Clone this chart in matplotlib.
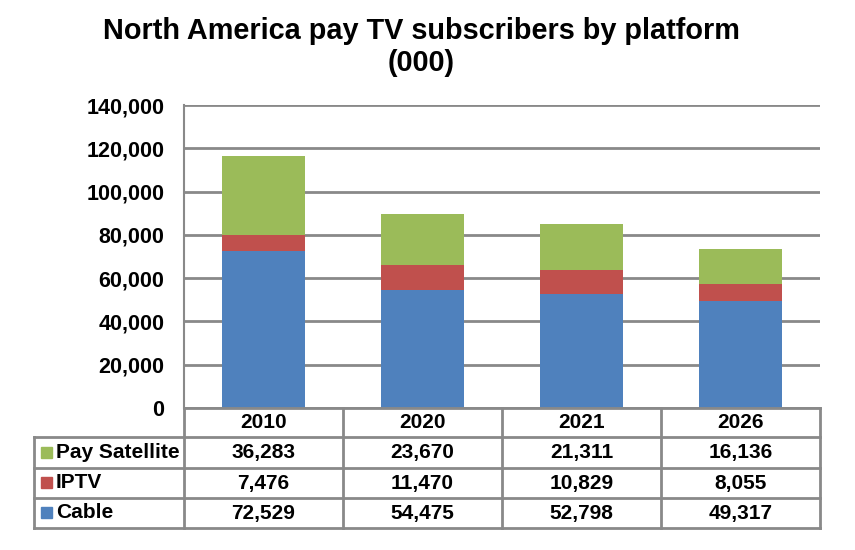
import matplotlib
matplotlib.use("Agg")
import matplotlib.pyplot as plt
import matplotlib.transforms as mtransforms
from matplotlib.patches import Rectangle

plt.rcParams['font.family'] = ['Liberation Sans', 'DejaVu Sans']
plt.rcParams['font.weight'] = 'bold'

# data
years = ["2010", "2020", "2021", "2026"]
series_names = ["Pay Satellite", "IPTV", "Cable"]
cable = [72529, 54475, 52798, 49317]
iptv = [7476, 11470, 10829, 8055]
satellite = [36283, 23670, 21311, 16136]
colors = {"Cable": "#4F81BD", "IPTV": "#C0504D", "Pay Satellite": "#9BBB59"}
values = {"Cable": cable, "IPTV": iptv, "Pay Satellite": satellite}

grid_col = "#898989"
fs = 15.5
fs_tab = 15

fig = plt.figure(figsize=(8.55, 5.5), dpi=100)
ax = fig.add_axes([184 / 855, 1 - 408 / 550, 636 / 855, 303 / 550])

x = [i + 0.5 for i in range(len(years))]
bottom = [0] * len(years)
for name in ["Cable", "IPTV", "Pay Satellite"]:
    ax.bar(x, values[name], width=0.52, bottom=bottom, color=colors[name], zorder=3)
    bottom = [b + v for b, v in zip(bottom, values[name])]

ax.set_xlim(0, len(years))
ax.set_ylim(0, 140000)
ax.set_yticks(range(0, 140001, 20000))
ax.set_yticklabels([f"{v:,}" for v in range(0, 140001, 20000)], fontsize=fs, fontweight='bold')
ax.tick_params(axis='y', length=0, pad=14)
ax.set_xticks([])
ax.grid(axis='y', color=grid_col, linewidth=2, zorder=0)
for s in ['top', 'right', 'bottom']:
    ax.spines[s].set_visible(False)
ax.spines['left'].set_color(grid_col)
ax.spines['left'].set_linewidth(1.5)

# data table below the axes
tr = mtransforms.blended_transform_factory(ax.transData, ax.transAxes)
px = 1 / 303.0
row_edges = [0, -29 * px, -60 * px, -90 * px, -120 * px]
left = (34 - 184) / 159.0
n = len(years)
lkw = dict(color=grid_col, linewidth=2, transform=tr, clip_on=False, zorder=4)

ax.plot([0, n], [row_edges[0]] * 2, **lkw)
for y in row_edges[1:]:
    ax.plot([left, n], [y, y], **lkw)
for i in range(n + 1):
    ax.plot([i, i], [row_edges[0], row_edges[-1]], **lkw)
ax.plot([left, left], [row_edges[1], row_edges[-1]], **lkw)

for i, yr in enumerate(years):
    ax.text(i + 0.5, (row_edges[0] + row_edges[1]) / 2, yr, transform=tr, ha='center',
            va='center', fontsize=fs_tab, fontweight='bold')

for r, name in enumerate(series_names):
    yc = (row_edges[r + 1] + row_edges[r + 2]) / 2
    ax.add_patch(Rectangle((left + 7 / 159.0, yc - 5 * px), 11 / 159.0, 11 * px,
                           color=colors[name], transform=tr, clip_on=False))
    ax.text(left + 22 / 159.0, yc, name, transform=tr, ha='left', va='center',
            fontsize=fs_tab, fontweight='bold')
    for i, v in enumerate(values[name]):
        ax.text(i + 0.5, yc, f"{v:,}", transform=tr, ha='center', va='center',
                fontsize=fs_tab, fontweight='bold')

fig.text(421 / 855, 1 - 47 / 550, "North America pay TV subscribers by platform\n(000)",
         ha='center', va='center', fontsize=20.8, fontweight='bold', linespacing=1.2)

fig.savefig("out.png", dpi=100)
